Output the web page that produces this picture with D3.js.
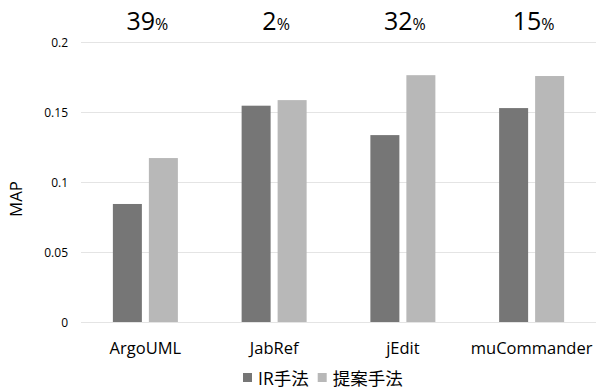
<!DOCTYPE html>
<html>
<head>
<meta charset="utf-8">
<script src="https://cdn.jsdelivr.net/npm/d3@7"></script>
<style>
  body { margin: 0; background: #fff; }
  text { font-family: "Open Sans", "Noto Sans CJK JP", sans-serif; fill: #000; }
</style>
</head>
<body>
<div id="chart"></div>
<script>
// MAP comparison, IR vs proposed

var categories = ["ArgoUML", "JabRef", "jEdit", "muCommander"];
var seriesNames = ["IR手法", "提案手法"];
var irValues = [0.0843, 0.1545, 0.1335, 0.1528];
var propValues = [0.1171, 0.1585, 0.1763, 0.1757];
var improvements = ["39", "2", "32", "15"];
var yTicks = [0, 0.05, 0.1, 0.15, 0.2];

var WIDTH = 603;
var HEIGHT = 390;
var LEFT = 81, RIGHT = 596, TOP = 42, BOTTOM = 322;
var COLORS = ["#767676", "#b8b8b8"];

var svg = d3.select("#chart").append("svg")
    .attr("width", WIDTH)
    .attr("height", HEIGHT);

var x = d3.scaleBand()
    .domain(categories)
    .range([LEFT, RIGHT]);

var y = d3.scaleLinear()
    .domain([0, 0.2])
    .range([BOTTOM, TOP]);

// gridlines
svg.selectAll("line.grid")
    .data(yTicks)
    .enter()
    .append("line")
    .attr("x1", LEFT)
    .attr("x2", RIGHT)
    .attr("y1", function(d) { return Math.round(y(d)) + 0.5; })
    .attr("y2", function(d) { return Math.round(y(d)) + 0.5; })
    .attr("stroke", "#e4e4e4")
    .attr("stroke-width", 1.2);

// y tick labels
svg.selectAll("text.ytick")
    .data(yTicks)
    .enter()
    .append("text")
    .attr("x", 68)
    .attr("y", function(d) { return y(d) + 4.5; })
    .attr("text-anchor", "end")
    .style("font-size", "12px")
    .text(function(d) { return d; });

// bars
var BAR_W = 29, GAP = 7;
var rows = categories.map(function(c, i) {
    return { cat: c, vals: [irValues[i], propValues[i]] };
});

var groups = svg.selectAll("g.cat")
    .data(rows)
    .enter()
    .append("g")
    .attr("transform", function(d) {
        return "translate(" + (x(d.cat) + x.bandwidth() / 2) + ",0)";
    });

groups.selectAll("rect")
    .data(function(d) { return d.vals; })
    .enter()
    .append("rect")
    .attr("x", function(d, j) { return j == 0 ? -BAR_W - GAP / 2 : GAP / 2; })
    .attr("y", function(d) { return y(d); })
    .attr("width", BAR_W)
    .attr("height", function(d) { return y(0) - y(d); })
    .attr("fill", function(d, j) { return COLORS[j]; });

// category labels
groups.append("text")
    .attr("x", 0)
    .attr("y", 354)
    .attr("text-anchor", "middle")
    .style("font-size", "16.5px")
    .text(function(d) { return d.cat; });

// improvement labels
groups.append("text")
    .attr("x", 2)
    .attr("y", 30)
    .attr("text-anchor", "middle")
    .each(function(d, i) {
        var t = d3.select(this);
        t.append("tspan").style("font-size", "25px").text(improvements[i]);
        t.append("tspan").style("font-size", "16px").text("%");
    });

// y axis title
svg.append("text")
    .attr("transform", "translate(22,199) rotate(-90)")
    .attr("text-anchor", "middle")
    .style("font-size", "16.8px")
    .text("MAP");

// legend
var legend = svg.append("g").attr("transform", "translate(243,0)");
var lx = 0;
seriesNames.forEach(function(name, i) {
    legend.append("rect")
        .attr("x", lx)
        .attr("y", 373)
        .attr("width", 9)
        .attr("height", 9)
        .attr("fill", COLORS[i]);
    var t = legend.append("text")
        .attr("x", lx + 15)
        .attr("y", 385)
        .style("font-size", "17.5px")
        .text(name);
    lx += 15 + t.node().getComputedTextLength() + 9;
});
</script>
</body>
</html>
